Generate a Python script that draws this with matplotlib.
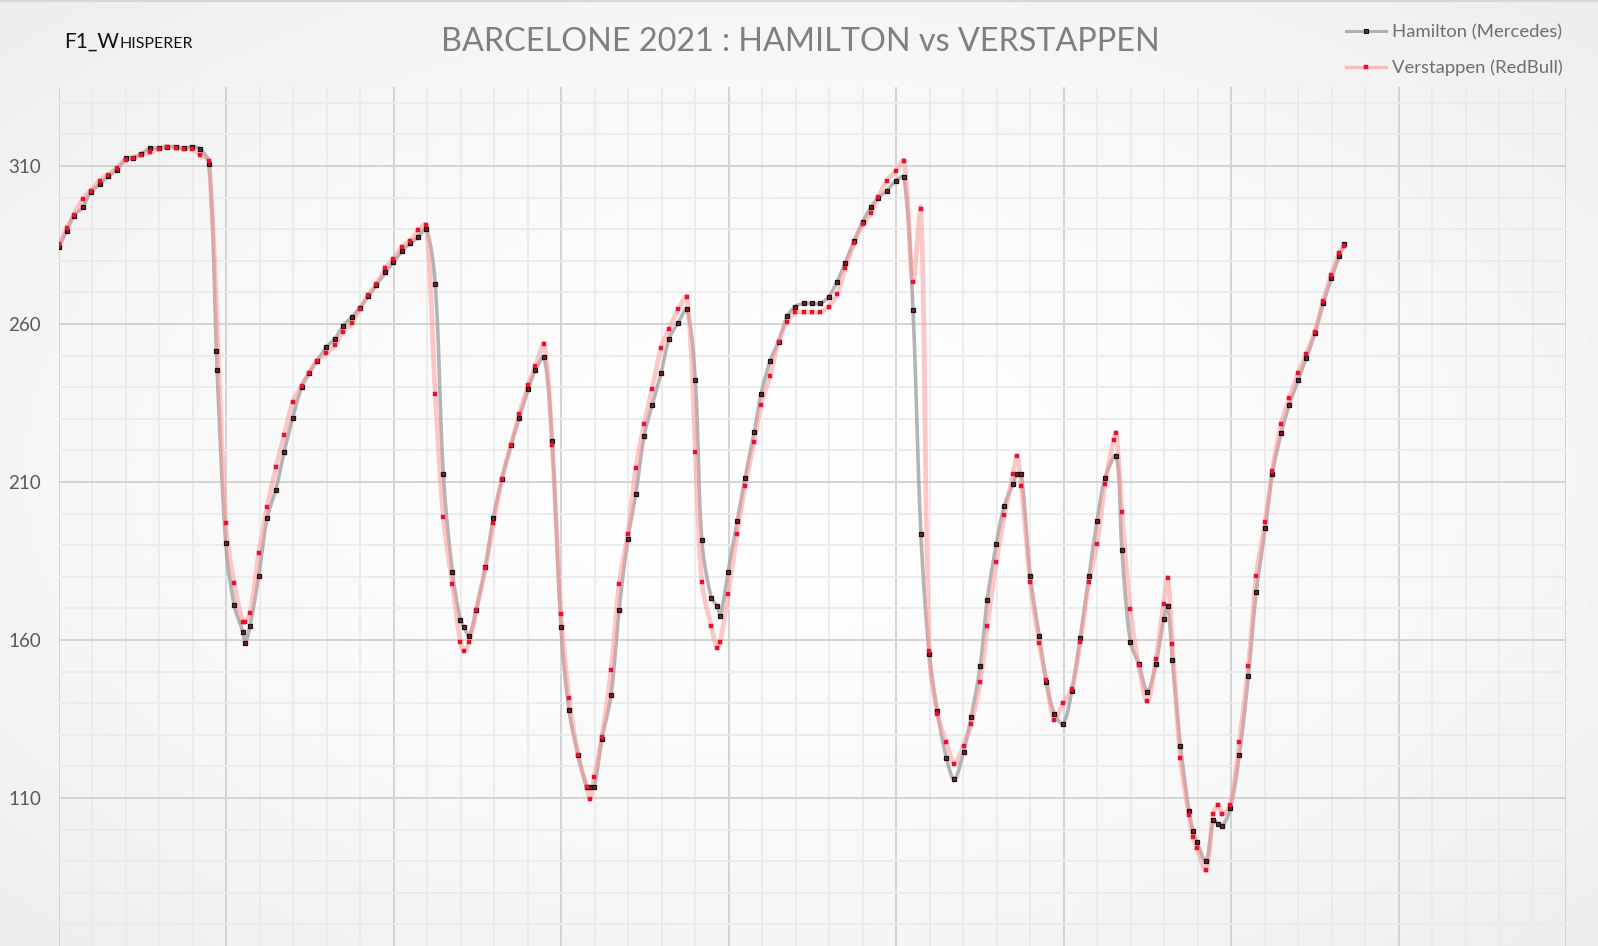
import numpy as np
import matplotlib
matplotlib.use("Agg")
import matplotlib.pyplot as plt
from matplotlib.lines import Line2D

# ---------------- data (time in s, speed in km/h) ----------------
ham_t = [0.0, 0.46, 0.9, 1.43, 1.89, 2.43, 2.93, 3.45, 3.98, 4.4, 4.9, 5.44, 5.96, 6.45, 6.97,
         7.45, 7.93, 8.43, 8.96, 9.40, 9.44, 9.96, 10.46, 10.98, 11.12, 11.41, 11.93, 12.43,
         12.95, 13.45, 13.96, 14.5, 14.94, 15.4, 15.96, 16.49, 16.97, 17.51, 17.95, 18.47,
         18.95, 19.48, 19.96, 20.48, 20.98, 21.46, 21.93, 22.47, 22.95, 23.49, 23.97, 24.2,
         24.5, 24.92, 25.46, 25.94, 26.45, 26.99, 27.49, 28.03, 28.45, 28.97, 29.45, 29.98,
         30.46, 31.0, 31.52, 31.72, 31.96, 32.42, 32.97, 33.45, 33.97, 34.45, 34.95, 35.43,
         35.96, 36.44, 36.98, 37.5, 38.0, 38.39, 38.95, 39.31, 39.49, 39.96, 40.5, 40.98,
         41.52, 41.92, 42.47, 42.97, 43.49, 43.97, 44.48, 44.98, 45.46, 45.96, 46.47, 46.95,
         47.49, 48.0, 48.5, 48.94, 49.44, 49.99, 50.47, 51.0, 51.47, 51.97, 52.45, 52.99,
         53.47, 54.02, 54.48, 55.02, 55.44, 55.98, 56.46, 56.98, 57.21, 57.47, 58.0, 58.54,
         58.96, 59.44, 59.97, 60.49, 60.99, 61.51, 61.99, 62.48, 63.14, 63.48, 63.98, 64.48,
         65.0, 65.51, 65.97, 66.21, 66.49, 66.97, 67.48, 67.72, 67.96, 68.5, 68.94, 69.24,
         69.48, 69.95, 70.49, 71.03, 71.5, 72.04, 72.46, 72.99, 73.47, 74.01, 74.49, 75.0,
         75.5, 75.98, 76.45, 76.77]
ham_v = [284.5, 289.5, 294.3, 297.1, 301.9, 304.2, 306.8, 308.7, 312.4, 312.6, 313.8, 315.6,
         315.6, 316.1, 316.1, 315.6, 316.1, 315.4, 310.5, 251.6, 245.4, 190.6, 171.1, 162.6,
         159.0, 164.5, 180.4, 198.7, 207.6, 219.6, 230.4, 240.2, 244.5, 248.3, 252.6, 255.4,
         259.4, 262.3, 265.0, 268.8, 272.3, 276.3, 279.5, 283.2, 285.5, 287.6, 290.2, 272.6,
         212.6, 181.6, 166.4, 164.0, 161.3, 169.6, 183.0, 198.7, 211.0, 221.6, 230.4, 239.5,
         245.4, 249.4, 222.9, 164.0, 137.7, 123.7, 113.5, 113.5, 113.5, 128.7, 142.6, 169.6,
         191.9, 206.3, 224.7, 234.4, 244.6, 255.4, 260.4, 264.6, 242.3, 191.6, 173.4, 170.8,
         167.7, 181.6, 197.5, 211.4, 225.7, 237.7, 248.3, 254.4, 262.4, 265.5, 266.5, 266.5,
         266.5, 268.6, 273.4, 279.3, 286.4, 292.4, 297.1, 300.0, 302.2, 305.4, 306.6, 264.5,
         193.7, 155.6, 137.6, 122.8, 115.9, 124.7, 135.7, 151.9, 172.8, 190.5, 202.5, 209.5,
         212.5, 212.5, 180.4, 161.4, 146.8, 136.7, 133.5, 144.0, 160.7, 180.4, 197.5, 211.4,
         218.3, 188.6, 159.5, 152.5, 143.7, 152.5, 166.5, 170.9, 153.8, 126.6, 105.9, 99.7,
         96.0, 90.0, 102.9, 101.8, 101.1, 106.7, 123.7, 148.7, 175.3, 195.5, 212.6, 225.5,
         234.4, 242.4, 249.3, 257.0, 266.5, 274.4, 281.4, 285.4]

ver_t = [0.0, 0.46, 0.9, 1.43, 1.89, 2.43, 2.93, 3.45, 3.98, 4.4, 4.9, 5.44, 5.96, 6.45, 6.97,
         7.45, 7.93, 8.43, 8.96, 9.96, 10.46, 10.98, 11.12, 11.41, 11.93, 12.43, 12.95, 13.45,
         13.96, 14.5, 14.94, 15.4, 15.96, 16.49, 16.97, 17.51, 17.95, 18.47, 18.95, 19.48,
         19.96, 20.48, 20.98, 21.46, 21.93, 22.47, 22.95, 23.49, 23.97, 24.2, 24.5, 24.92,
         25.46, 25.94, 26.45, 26.99, 27.49, 28.03, 28.45, 28.97, 29.45, 29.98, 30.46, 31.0,
         31.52, 31.72, 31.96, 32.42, 32.97, 33.45, 33.97, 34.45, 34.95, 35.43, 35.96, 36.44,
         36.98, 37.5, 38.0, 38.39, 38.95, 39.31, 39.49, 39.96, 40.5, 40.98, 41.52, 41.92,
         42.47, 42.97, 43.49, 43.97, 44.48, 44.98, 45.46, 45.96, 46.47, 46.95, 47.49, 48.0,
         48.5, 48.94, 49.44, 49.99, 50.47, 51.0, 51.47, 51.97, 52.45, 52.99, 53.47, 54.02,
         54.48, 55.02, 55.44, 55.98, 56.46, 56.98, 57.21, 57.47, 58.0, 58.54, 58.96, 59.44,
         59.97, 60.49, 60.99, 61.51, 61.99, 62.48, 62.98, 63.14, 63.48, 63.98, 64.48, 65.0,
         65.51, 65.97, 66.21, 66.49, 66.97, 67.48, 67.72, 67.96, 68.5, 68.94, 69.24, 69.48,
         69.95, 70.49, 71.03, 71.5, 72.04, 72.46, 72.99, 73.47, 74.01, 74.49, 75.0, 75.5,
         75.98, 76.45, 76.77]
ver_v = [285.3, 290.3, 294.6, 299.7, 302.2, 305.4, 307.3, 309.3, 311.9, 312.4, 313.6, 314.3,
         315.5, 316.1, 315.6, 315.4, 315.5, 313.5, 311.7, 196.9, 177.9, 165.8, 165.8, 168.4,
         187.4, 202.0, 214.6, 224.8, 235.4, 240.5, 244.6, 248.4, 250.7, 253.4, 257.6, 260.4,
         264.6, 269.2, 272.5, 277.6, 280.5, 284.5, 286.4, 289.6, 291.4, 237.7, 198.9, 177.8,
         159.4, 156.6, 159.4, 169.6, 182.8, 196.9, 211.0, 221.6, 231.6, 240.7, 246.7, 253.6,
         221.6, 168.3, 141.8, 123.7, 113.5, 109.6, 116.6, 129.3, 150.5, 177.7, 193.7, 214.5,
         228.3, 239.5, 252.5, 258.5, 264.6, 268.6, 219.6, 178.5, 164.4, 157.5, 159.4, 174.6,
         193.7, 208.8, 222.8, 234.4, 243.7, 254.4, 260.6, 263.7, 263.7, 263.7, 263.7, 265.5,
         269.4, 277.6, 285.5, 291.5, 295.2, 300.3, 305.4, 308.5, 311.7, 273.4, 296.5, 156.6,
         136.7, 127.8, 120.9, 126.6, 133.5, 146.8, 164.5, 184.8, 199.4, 212.6, 218.3, 208.8,
         178.5, 158.9, 147.4, 134.8, 140.0, 144.6, 159.5, 178.5, 190.5, 209.5, 223.4, 225.6,
         200.6, 169.7, 152.0, 140.6, 153.9, 171.4, 179.7, 158.8, 122.7, 104.6, 97.8, 94.1,
         87.1, 104.8, 107.9, 104.8, 107.9, 127.8, 151.8, 180.4, 197.4, 213.6, 228.4, 236.6,
         244.6, 250.6, 257.5, 267.4, 275.5, 282.6, 284.7]

series_names = ["Hamilton (Mercedes)", "Verstappen (RedBull)"]
title_text = "BARCELONE 2021 : HAMILTON vs VERSTAPPEN"
y_ticks = [60, 110, 160, 210, 260, 310]


def smooth(ax, x, y, n=16):
    """Excel-like smoothed line: Bezier segments built in screen space, with
    tangents split in proportion to the neighbouring segment lengths."""
    P = ax.transData.transform(np.column_stack([np.asarray(x, float),
                                                np.asarray(y, float)]))
    E = np.vstack([P[0], P, P[-1]])
    d = np.linalg.norm(np.diff(E, axis=0), axis=1)  # lengths of extended segments
    s = np.linspace(0, 1, n, endpoint=False)[:, None]
    segs = []
    for i in range(len(P) - 1):
        p0, p1, p2, p3 = E[i], E[i + 1], E[i + 2], E[i + 3]
        dp, dc, dn = d[i], d[i + 1], d[i + 2]
        k1 = dc / (dp + dc) if dp + dc > 0 else 0.5
        k2 = dc / (dc + dn) if dc + dn > 0 else 0.5
        c1 = p1 + (p2 - p0) * k1 / 3.0
        c2 = p2 - (p3 - p1) * k2 / 3.0
        segs.append((1 - s) ** 3 * p1 + 3 * (1 - s) ** 2 * s * c1
                    + 3 * (1 - s) * s ** 2 * c2 + s ** 3 * p2)
    segs.append(P[-1:])
    B = ax.transData.inverted().transform(np.vstack(segs))
    return B[:, 0], B[:, 1]


W, H = 1598, 946
fig = plt.figure(figsize=(W / 100, H / 100), dpi=100)
plt.rcParams["font.family"] = ["Lato", "DejaVu Sans"]

# background radial gradient
bg = fig.add_axes([0, 0, 1, 1], zorder=0)
yy, xx = np.mgrid[0:1:200j, 0:1:340j]
r2 = ((xx - 0.5) / 0.5) ** 2 * 0.6 + ((yy - 0.5) / 0.5) ** 2 * 0.6
grad = 0.992 - 0.055 * np.clip(r2, 0, 1.2)
bg.imshow(grad, cmap="gray", vmin=0, vmax=1, extent=[0, 1, 0, 1], aspect="auto",
          interpolation="bicubic")
bg.plot([0, 1], [0.999, 0.999], color="#d6d6d6", lw=1.5, transform=bg.transAxes)
bg.set_xlim(0, 1); bg.set_ylim(0, 1)
bg.axis("off")

# main axes (bottom extends below the figure, as in the cropped original)
x0, x1 = 59 / W, 1566 / W
ytop = 87
ybot = 956
ax = fig.add_axes([x0, (H - ybot) / H, x1 - x0, (ybot - ytop) / H], zorder=1)
ax.set_facecolor("none")
ax.set_xlim(0, 90)
ax.set_ylim(60, 335)
ax.set_xticks(np.arange(0, 91, 10))
ax.set_xticks(np.arange(0, 91, 2), minor=True)
ax.set_yticks(y_ticks)
ax.set_yticks(np.arange(60, 336, 10), minor=True)
ax.grid(which="minor", color="#ebebeb", lw=1.3, zorder=0)
ax.grid(which="major", color="#d3d3d3", lw=1.4, zorder=0)
ax.set_axisbelow(True)
for sp in ax.spines.values():
    sp.set_visible(False)
ax.tick_params(which="both", length=0)
ax.tick_params(axis="x", labelbottom=False)
ax.tick_params(axis="y", labelsize=13.5, labelcolor="#595959", pad=13)

hx, hy = smooth(ax, ham_t, ham_v)
vx, vy = smooth(ax, ver_t, ver_v)
ax.plot(hx, hy, color="#9c9c9c", lw=2.6, alpha=0.75, solid_joinstyle="round",
        solid_capstyle="round", zorder=2)
ax.plot(vx, vy, color="#ff9c9c", lw=3.4, alpha=0.55, solid_joinstyle="round",
        solid_capstyle="round", zorder=3)
ax.plot(ham_t, ham_v, ls="none", marker="s", ms=3.1, mfc="#8e1b22", mec="#111111",
        mew=0.9, zorder=4)
ax.plot(ver_t, ver_v, ls="none", marker="s", ms=3.4, mfc="#e5132b", mec="#e5132b",
        mew=0.3, zorder=5)

# legend
h1 = Line2D([], [], color="#b0b0b0", lw=2.2, marker="s", ms=2.8, mfc="#8e1b22",
            mec="#111111", mew=0.8)
h2 = Line2D([], [], color="#f7b9b9", lw=2.4, marker="s", ms=3.0, mfc="#e5132b",
            mec="#e5132b", mew=0.3)
leg = fig.legend([h1, h2], series_names, loc="upper right",
                 bbox_to_anchor=(1570 / W, 1 - 16.5 / H), frameon=False, fontsize=13.3,
                 handlelength=2.2, handletextpad=0.3, labelspacing=1.05,
                 borderaxespad=0, numpoints=1)
for t in leg.get_texts():
    t.set_color("#6e6e6e")

# title
fig.text(785 * W / 1568 / W, 1 - 42 / H, title_text, ha="center", va="center",
         fontsize=23.3, color="#7f7f7f")

# F1_Whisperer in small caps
renderer = fig.canvas.get_renderer()
t1 = fig.text(64 / W, 1 - 48 / H, "F1_W", ha="left", va="baseline", fontsize=15,
              color="#111111")
bb = t1.get_window_extent(renderer=renderer)
fig.text((bb.x1 + 0.5) / W, 1 - 48 / H, "HISPERER", ha="left", va="baseline",
         fontsize=11.5, color="#111111")

fig.savefig("out.png", dpi=100)
